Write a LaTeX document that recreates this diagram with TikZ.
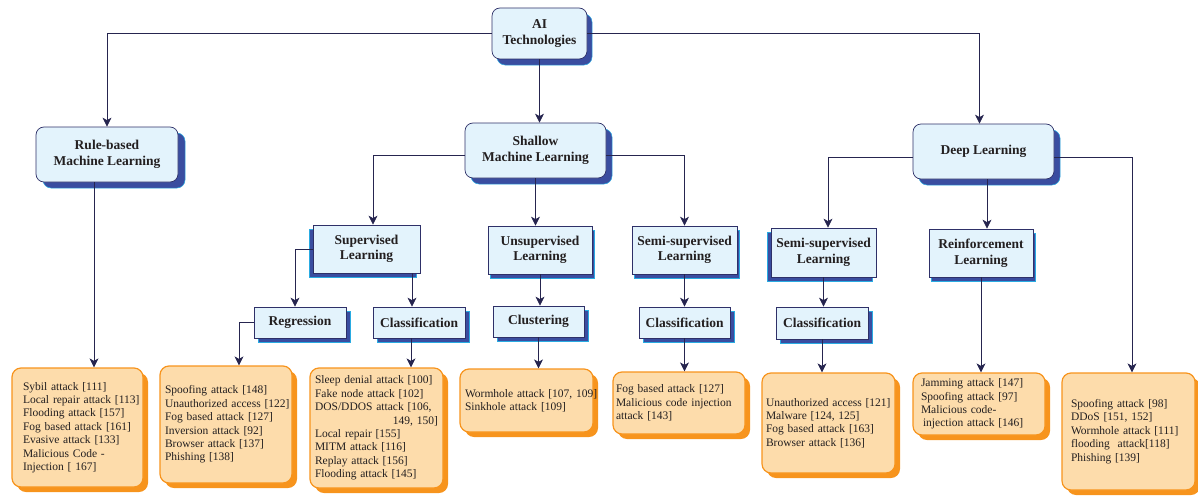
\documentclass[tikz,border=0pt]{standalone}
\usepackage{fontspec}
\setmainfont{Liberation Serif}
\usepackage{tikz}
\usetikzlibrary{positioning}
\usetikzlibrary{shapes,arrows.meta,shadows}
\definecolor{paleblue}{HTML}{E3F3FC}
\definecolor{navy}{HTML}{2E3068}
\definecolor{shadowblue}{HTML}{3A4DA0}
\definecolor{shadowedge}{HTML}{29ABE2}
\definecolor{peach}{HTML}{FDDCAB}
\definecolor{orangeline}{HTML}{F7941D}
\definecolor{linecol}{HTML}{26254F}
\definecolor{inkdark}{HTML}{231F20}
\newcommand{\nohyphens}{\hyphenpenalty=10000 \exhyphenpenalty=10000\relax}
\tikzstyle{mainbox} = [rectangle, draw=navy, fill=paleblue, rounded corners=8pt,
    align=center, text=inkdark, inner sep=0pt, line width=0.7pt,
    font=\bfseries\fontsize{13.5}{16}\selectfont]
\tikzstyle{subbox} = [rectangle, draw=navy, fill=paleblue,
    align=center, text=inkdark, inner sep=0pt, line width=0.7pt,
    font=\bfseries\fontsize{13.5}{15.5}\selectfont]
\tikzstyle{attack} = [rectangle, draw=orangeline, fill=peach, rounded corners=9pt,
    line width=1.2pt, align=left, inner sep=0pt, text=inkdark,
    font=\fontsize{11.5}{13.4}\selectfont, execute at begin node=\nohyphens,
    drop shadow={shadow xshift=5pt, shadow yshift=-5pt, fill=orangeline, opacity=1}]
\tikzstyle{line} = [draw=linecol, line width=0.8pt, -{Stealth[length=9pt,width=9pt,inset=2.5pt]}]
\tikzset{blueshadow/.style 2 args={drop shadow={shadow xshift=#1, shadow yshift=#2,
    fill=shadowblue, draw=shadowedge, line width=0.5pt, opacity=1}}}

\begin{document}
\begin{tikzpicture}[x=1pt, y=-1pt]
    \useasboundingbox (0,0) rectangle (1198,495);
        % Nodes
    \node [mainbox, blueshadow={5pt}{-6pt}, minimum width=95pt, minimum height=51pt] (ai) at (539.5,33.5) {AI\\Technologies};
    \node [mainbox, blueshadow={7pt}{-6pt}, minimum width=142pt, minimum height=55pt] (rbml) at (107,154.5) {Rule-based\\Machine Learning};
    \node [mainbox, blueshadow={6pt}{-6pt}, minimum width=141pt, minimum height=55pt] (sml) at (535.5,150.5) {Shallow\\Machine Learning};
    \node [mainbox, blueshadow={6pt}{-6pt}, minimum width=141pt, minimum height=55pt] (dl) at (983.5,151.5) {Deep Learning};
        % second level
    \node [subbox, blueshadow={-4pt}{-4pt}, minimum width=107pt, minimum height=48pt] (sl) at (366.5,249) {Supervised\\Learning};
    \node [subbox, blueshadow={2pt}{-4pt}, minimum width=104pt, minimum height=48pt] (ul) at (540,250) {Unsupervised\\Learning};
    \node [subbox, blueshadow={2pt}{-4pt}, minimum width=105pt, minimum height=48pt] (ssl) at (684.5,250) {Semi-supervised\\Learning};
    \node [subbox, blueshadow={-4pt}{-4pt}, minimum width=105pt, minimum height=49pt] (dssl) at (823.5,252.5) {Semi-supervised\\Learning};
    \node [subbox, blueshadow={2pt}{-4pt}, minimum width=104pt, minimum height=48pt] (rl) at (981,253) {Reinforcement\\Learning};
        % third level
    \node [subbox, blueshadow={4pt}{-4pt}, minimum width=92pt, minimum height=31pt] (reg) at (300,322.5) {Regression};
    \node [subbox, blueshadow={4pt}{-4pt}, minimum width=92pt, minimum height=31pt] (scl) at (419,322.5) {Classification};
    \node [subbox, blueshadow={4pt}{-4pt}, minimum width=91pt, minimum height=31pt] (clu) at (538.5,321.5) {Clustering};
    \node [subbox, blueshadow={4pt}{-4pt}, minimum width=91pt, minimum height=31pt] (sscl) at (684.5,322.5) {Classification};
    \node [subbox, blueshadow={4pt}{-4pt}, minimum width=92pt, minimum height=32pt] (dcl) at (822,323) {Classification};
        % attacks
    \node [attack, minimum width=131pt, minimum height=119pt, text width=109pt] (rba) at (77.5,427.5)
        {Sybil attack [111]\\Local~repair~attack~[113]\\Flooding~attack~[157]\\Fog~based~attack~[161]\\Evasive attack [133]\\Malicious Code -\\Injection [ 167]};
    \node [attack, minimum width=132pt, minimum height=117pt, text width=122pt] (rega) at (226,424.5)
        {Spoofing attack [148]\\Unauthorized~access~[122]\\Fog based attack [127]\\Inversion attack [92]\\Browser attack [137]\\Phishing [138]};
    \node [attack, minimum width=133pt, minimum height=120pt, text width=123pt] (sclsa) at (376.5,428)
        {Sleep~denial~attack~[100]\\Fake node attack [102]\\DOS/DDOS~attack~[106,\\\mbox{}\hfill 149, 150]\\Local repair [155]\\MITM attack [116]\\Replay attack [156]\\Flooding attack [145]};
    \node [attack, minimum width=133pt, minimum height=63pt, text width=123pt] (clua) at (526.5,400.5)
        {Wormhole~attack~[107,~109]\\Sinkhole attack [109]};
    \node [attack, minimum width=132pt, minimum height=62pt, text width=126pt] (ssca) at (679,403)
        {Fog based attack [127]\\Malicious~code~injection\\attack [143]};
    \node [attack, minimum width=133pt, minimum height=100pt, text width=125pt] (dlca) at (828.5,423)
        {Unauthorized~access~[121]\\Malware [124, 125]\\Fog based attack [163]\\Browser attack [136]};
    \node [attack, minimum width=132pt, minimum height=62pt, text width=116pt] (rla) at (979,404)
        {Jamming attack [147]\\Spoofing attack [97]\\Malicious code-\\\hspace*{2pt}injection~attack~[146]};
    \node [attack, minimum width=133pt, minimum height=117pt, text width=115pt] (dla) at (1128.5,431.5)
        {Spoofing attack [98]\\DDoS [151, 152]\\Wormhole~attack~[111]\\flooding\ \ attack[118]\\Phishing [139]};
        % Edges
    \path [line] (ai.west) -| (rbml.north);
    \path [line] (ai.east) -| ([xshift=-4pt]dl.north);
    \path [line] (ai.south) -- (ai.south |- sml.north);
    \path [line] ([xshift=-13pt]rbml.south) -- ([xshift=-13pt]rbml.south |- rba.north);
    \path [line] ([yshift=-5pt]sml.west) -| ([xshift=6.5pt]sl.north);
    \path [line] (sml.south) -- (sml.south |- ul.north);
    \path [line] ([yshift=-5pt]sml.east) -| (ssl.north);
    \path [line] (sl.west) -| ([xshift=-5pt]reg.north);
    \path [line] ([xshift=45.5pt]sl.south) -- ([xshift=45.5pt]sl.south |- scl.north);
    \path [line] (reg.west) -| ([xshift=13pt]rega.north);
    \path [line] ([xshift=-8pt]scl.south) -- ([xshift=-8pt]scl.south |- sclsa.north);
    \path [line] (ul.south) -- (ul.south |- clu.north);
    \path [line] (clu.south) -- (clu.south |- clua.north);
    \path [line] (ssl.south) -- (sscl.north);
    \path [line] (sscl.south) -- (sscl.south |- ssca.north);
    \path [line] ([yshift=-6pt]dl.west) -| ([xshift=4.5pt]dssl.north);
    \path [line] ([xshift=3.5pt]dl.south) -- ([xshift=3.5pt]dl.south |- rl.north);
    \path [line] ([yshift=-6pt]dl.east) -| ([xshift=3.5pt]dla.north);
    \path [line] (dssl.south) -- (dssl.south |- dcl.north);
    \path [line] (dcl.south) -- (dcl.south |- dlca.north);
    \path [line] (rl.south) -- (rl.south |- rla.north);
\end{tikzpicture}
\end{document}
